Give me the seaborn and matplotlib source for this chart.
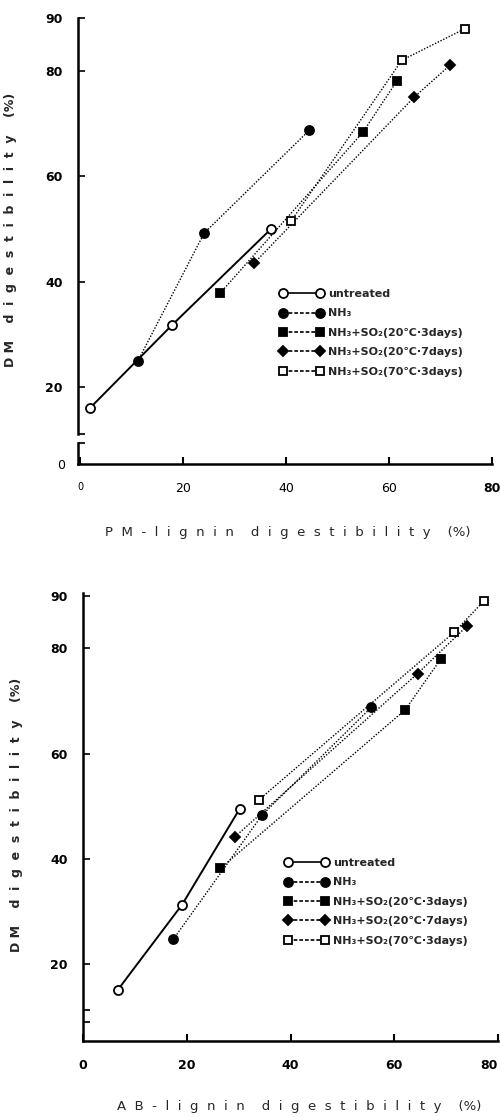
import numpy as np
import pandas as pd
import seaborn as sns
import matplotlib
matplotlib.use('Agg')
import matplotlib.pyplot as plt
from matplotlib.lines import Line2D

sns.set_theme(style='white')
plt.rcParams['font.family'] = ['DejaVu Sans']

# PM-lignin digestibility vs DM digestibility (top panel)
pm_untreated_x = [1.9, 17.9, 37.1]
pm_untreated_y = [16.0, 31.8, 50.0]
pm_nh3_x = [11.2, 24.1, 44.5]
pm_nh3_y = [24.9, 49.2, 68.7]
pm_s20_3_x = [27.2, 54.9, 61.5]
pm_s20_3_y = [37.8, 68.3, 78.0]
pm_s20_7_x = [33.8, 64.9, 71.9]
pm_s20_7_y = [43.5, 75.0, 81.1]
pm_s70_3_x = [41.0, 62.5, 74.8]
pm_s70_3_y = [51.5, 82.0, 88.0]

# AB-lignin digestibility vs DM digestibility (bottom panel)
ab_untreated_x = [6.7, 19.1, 30.2]
ab_untreated_y = [15.1, 31.3, 49.5]
ab_nh3_x = [17.4, 34.5, 55.6]
ab_nh3_y = [24.7, 48.3, 68.8]
ab_s20_3_x = [26.5, 62.1, 69.0]
ab_s20_3_y = [38.2, 68.3, 78.0]
ab_s20_7_x = [29.3, 64.5, 74.0]
ab_s20_7_y = [44.2, 75.2, 84.2]
ab_s70_3_x = [33.9, 71.6, 77.3]
ab_s70_3_y = [51.2, 83.1, 89.0]

labels = ['untreated', 'NH₃', 'NH₃+SO₂(20℃·3days)',
          'NH₃+SO₂(20℃·7days)', 'NH₃+SO₂(70℃·3days)']
y_ticks = [20, 40, 60, 80, 90]
x_ticks = [0, 20, 40, 60, 80]

# marker, face, size
styles = [('o', 'white', 6.5), ('o', 'black', 6.5), ('s', 'black', 6),
          ('D', 'black', 5.5), ('s', 'white', 6)]
dotted = (0, (1, 1.2))

W, H = 500, 1117
fig = plt.figure(figsize=(W / 100, H / 100), dpi=100)
fx = lambda p: p / W
fy = lambda p: 1 - p / H


def draw(ax, xs, ys):
    for i, (x, y) in enumerate(zip(xs, ys)):
        m, fc, ms = styles[i]
        ls = '-' if i == 0 else dotted
        lw = 1.4 if i == 0 else 1.0
        sns.lineplot(x=x, y=y, ax=ax, color='black', linestyle=ls, linewidth=lw,
                     marker=m, markersize=ms, markerfacecolor=fc,
                     markeredgecolor='black', markeredgewidth=1.3,
                     errorbar=None, legend=False, zorder=3 + i)


def legend(ax, x0, y0):
    handles = []
    for i, (m, fc, ms) in enumerate(styles):
        ls = '-' if i == 0 else (0, (2.2, 1.2))
        handles.append(Line2D([0], [0], color='black', ls=ls, lw=1.2, marker=m,
                              markersize=ms, mfc=fc, mec='black', mew=1.3))
    ax.legend(handles, labels, numpoints=2, frameon=False, loc='upper left',
              bbox_to_anchor=(fx(x0), fy(y0)), bbox_transform=fig.transFigure,
              borderpad=0, borderaxespad=0, handlelength=3.9, handletextpad=0.4,
              labelspacing=0.85, prop={'weight': 'bold', 'size': 8})


def style_y(ax):
    ax.set_yticks(y_ticks)
    ax.set_yticklabels([str(v) for v in y_ticks], fontweight='bold', fontsize=9)
    ax.yaxis.get_major_ticks()[-1].tick1line.set_visible(False)
    ax.tick_params(axis='y', direction='in', length=5, width=1.2, pad=11, left=True, colors='black')
    for s in ['top', 'right']:
        ax.spines[s].set_visible(False)
    ax.spines['left'].set_linewidth(1.8)
    ax.spines['left'].set_color('black')


def spaced(word):
    return '  '.join(word)


# ---- top panel ----
ax1 = fig.add_axes([fx(78), fy(434), fx(492) - fx(78), fy(18) - fy(434)])
draw(ax1, [pm_untreated_x, pm_nh3_x, pm_s20_3_x, pm_s20_7_x, pm_s70_3_x],
     [pm_untreated_y, pm_nh3_y, pm_s20_3_y, pm_s20_7_y, pm_s70_3_y])
ax1.set_xlim(-0.4, 80)
ax1.set_ylim(11.1, 90)
style_y(ax1)
ax1.set_yticks([11.1], minor=True)
ax1.tick_params(axis='y', which='minor', direction='in', length=5, width=1.5, left=True)
ax1.spines['bottom'].set_visible(False)
ax1.tick_params(axis='x', bottom=False, labelbottom=False)
ax1.set_xlabel('')
ax1.set_ylabel('  '.join(['D M', '', spaced('digestibility'), '', '(%)']),
               fontweight='bold', fontsize=9)
ax1.yaxis.set_label_coords(fx(17), fy(230), transform=fig.transFigure)
legend(ax1, 280, 289)

# broken-axis strip carrying the x axis
ax1b = fig.add_axes([fx(78), fy(464), fx(492) - fx(78), fy(443) - fy(464)])
ax1b.set_xlim(-0.4, 80)
ax1b.set_ylim(0, 4)
ax1b.set_yticks([0])
ax1b.set_yticklabels(['0'], fontsize=9)
ax1b.set_yticks([4], minor=True)
ax1b.tick_params(axis='y', which='major', length=0, pad=9, colors='black')
ax1b.tick_params(axis='y', which='minor', direction='in', length=5, width=1.5, left=True)
ax1b.set_xticks(x_ticks)
ax1b.set_xticklabels([str(v) for v in x_ticks], fontsize=9)
ax1b.get_xticklabels()[-1].set_fontweight('bold')
ax1b.get_xticklabels()[0].set_fontsize(7)
ax1b.tick_params(axis='x', direction='in', length=5, width=1.5, pad=13, bottom=True, colors='black')
for s in ['top', 'right']:
    ax1b.spines[s].set_visible(False)
for s in ['left', 'bottom']:
    ax1b.spines[s].set_linewidth(1.8)
    ax1b.spines[s].set_color('black')
ax1b.set_xlabel('    '.join([spaced('PM-lignin'), spaced('digestibility'), '(%)']),
                fontsize=9.5)
ax1b.xaxis.set_label_coords(fx(288), fy(526), transform=fig.transFigure)

# ---- bottom panel ----
ax2 = fig.add_axes([fx(83), fy(1041), fx(498) - fx(83), fy(593) - fy(1041)])
draw(ax2, [ab_untreated_x, ab_nh3_x, ab_s20_3_x, ab_s20_7_x, ab_s70_3_x],
     [ab_untreated_y, ab_nh3_y, ab_s20_3_y, ab_s20_7_y, ab_s70_3_y])
ax2.set_xlim(0, 80)
ax2.set_ylim(5.4, 90.5)
style_y(ax2)
ax2.set_yticks([9.0, 11.3], minor=True)
ax2.tick_params(axis='y', which='minor', direction='in', length=5, width=1.5, left=True)
ax2.set_xticks(x_ticks)
ax2.set_xticklabels([str(v) for v in x_ticks], fontweight='bold', fontsize=9)
ax2.get_xticklabels()[-1].set_horizontalalignment('right')  # keep "80" inside the canvas
ax2.tick_params(axis='x', direction='in', length=5, width=1.5, pad=13, bottom=True, colors='black')
ax2.spines['bottom'].set_linewidth(1.8)
ax2.spines['bottom'].set_color('black')
ax2.set_xlabel('    '.join([spaced('AB-lignin'), spaced('digestibility'), '(%)']),
               fontsize=9.5)
ax2.xaxis.set_label_coords(fx(299), fy(1100), transform=fig.transFigure)
ax2.set_ylabel('  '.join(['D M', '', spaced('digestibility'), '', '(%)']),
               fontweight='bold', fontsize=9)
ax2.yaxis.set_label_coords(fx(23), fy(815), transform=fig.transFigure)
legend(ax2, 285, 858)

fig.savefig('out.png', dpi=100)
